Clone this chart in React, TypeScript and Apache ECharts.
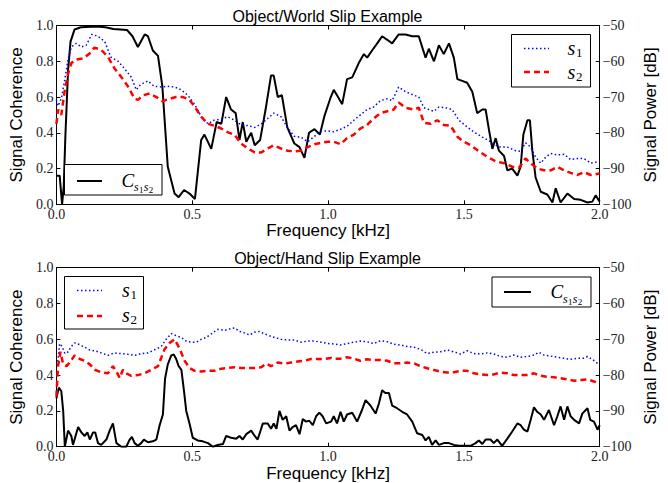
import React, { useEffect, useRef } from "react";
import * as echarts from "echarts";

// ---------- data (frequency in kHz, coherence 0..1, power in dB) ----------
const worldCoherence: [number, number][] = [
  [0, 0.16], [0.012, 0.16], [0.021, 0.0], [0.027, 0.1], [0.033, 0.38], [0.043, 0.75], [0.052, 0.91],
  [0.067, 0.978], [0.09, 0.99], [0.15, 0.995], [0.18, 0.99], [0.21, 0.98], [0.26, 0.975], [0.28, 0.94],
  [0.3, 0.88], [0.325, 0.95], [0.337, 0.94], [0.355, 0.86], [0.374, 0.83], [0.39, 0.66], [0.41, 0.21],
  [0.435, 0.06], [0.45, 0.04], [0.47, 0.08], [0.49, 0.06], [0.51, 0.03], [0.533, 0.36], [0.545, 0.39],
  [0.57, 0.31], [0.59, 0.46], [0.607, 0.45], [0.625, 0.6], [0.643, 0.53], [0.66, 0.51], [0.674, 0.36],
  [0.686, 0.46], [0.699, 0.35], [0.717, 0.4], [0.73, 0.33], [0.75, 0.36], [0.77, 0.53], [0.79, 0.72],
  [0.8, 0.72], [0.815, 0.6], [0.83, 0.61], [0.85, 0.43], [0.876, 0.34], [0.895, 0.32], [0.913, 0.26],
  [0.93, 0.4], [0.95, 0.42], [0.97, 0.39], [0.986, 0.49], [1.01, 0.6], [1.021, 0.64], [1.033, 0.61],
  [1.052, 0.56], [1.07, 0.7], [1.089, 0.71], [1.113, 0.79], [1.132, 0.84], [1.144, 0.82], [1.162, 0.86],
  [1.181, 0.9], [1.199, 0.94], [1.218, 0.92], [1.236, 0.9], [1.26, 0.95], [1.285, 0.95], [1.31, 0.94],
  [1.334, 0.94], [1.359, 0.82], [1.371, 0.87], [1.39, 0.8], [1.408, 0.89], [1.426, 0.84], [1.445, 0.9],
  [1.463, 0.82], [1.476, 0.7], [1.494, 0.69], [1.512, 0.68], [1.531, 0.63], [1.549, 0.51], [1.568, 0.53],
  [1.58, 0.53], [1.592, 0.42], [1.605, 0.31], [1.617, 0.37], [1.629, 0.3], [1.648, 0.27], [1.66, 0.19],
  [1.678, 0.2], [1.697, 0.16], [1.709, 0.21], [1.719, 0.39], [1.734, 0.47], [1.743, 0.47], [1.752, 0.3],
  [1.764, 0.15], [1.783, 0.07], [1.807, 0.055], [1.826, 0.01], [1.838, 0.09], [1.856, 0.01], [1.881, 0.06],
  [1.906, 0.03], [1.93, 0.025], [1.955, 0.01], [1.973, 0.015], [1.985, 0.05], [2.0, 0.015],
];

const worldS1: [number, number][] = [
  [0, -70.8], [0.006, -72.5], [0.018, -70.5], [0.03, -65.5], [0.043, -59.5], [0.055, -56], [0.073, -55],
  [0.092, -56], [0.11, -55.5], [0.13, -52.5], [0.153, -53], [0.178, -54.5], [0.2, -58.8], [0.227, -60],
  [0.25, -62], [0.276, -64.5], [0.294, -68], [0.31, -66.5], [0.337, -65.5], [0.36, -67], [0.386, -67.2],
  [0.41, -67], [0.435, -67.2], [0.46, -68], [0.484, -69.5], [0.51, -72.2], [0.533, -75.5], [0.558, -77.5],
  [0.58, -76.5], [0.607, -76.2], [0.63, -75.5], [0.656, -76.5], [0.68, -77.8], [0.705, -78], [0.73, -78.5],
  [0.754, -77.5], [0.778, -76], [0.8, -74.5], [0.827, -75.5], [0.85, -78.5], [0.876, -81], [0.9, -81.2],
  [0.925, -82.5], [0.95, -81], [0.974, -79.5], [1.0, -79.5], [1.021, -79.7], [1.046, -79], [1.07, -78.2],
  [1.095, -76.5], [1.119, -75], [1.144, -73.5], [1.168, -72.8], [1.193, -71], [1.218, -70.5], [1.236, -71],
  [1.26, -67.2], [1.285, -68.5], [1.316, -69.5], [1.334, -70], [1.353, -73], [1.371, -73.5], [1.39, -74],
  [1.408, -72.8], [1.433, -73], [1.457, -73.5], [1.482, -76.5], [1.506, -78], [1.537, -79.8], [1.568, -81.2],
  [1.598, -82.5], [1.629, -84], [1.66, -84], [1.69, -85], [1.709, -85.2], [1.727, -82.8], [1.746, -84],
  [1.764, -86.8], [1.783, -88.5], [1.801, -86.8], [1.82, -85.8], [1.844, -86.2], [1.869, -86], [1.893, -87.5],
  [1.918, -87.2], [1.942, -87.2], [1.967, -88.5], [2.0, -88],
];

const worldS2: [number, number][] = [
  [0, -77.5], [0.006, -73.5], [0.018, -75], [0.03, -68.5], [0.043, -63.5], [0.055, -60.5], [0.073, -59.5],
  [0.098, -59.2], [0.12, -58], [0.14, -56.2], [0.165, -56.8], [0.19, -58.8], [0.214, -62], [0.24, -64.5],
  [0.263, -67], [0.288, -70.5], [0.3, -70.8], [0.32, -69.5], [0.343, -69], [0.368, -70], [0.39, -71.2],
  [0.416, -70.5], [0.44, -70], [0.466, -70], [0.49, -70.8], [0.51, -72.8], [0.533, -75.5], [0.558, -77.5],
  [0.58, -78], [0.607, -78.8], [0.63, -79.8], [0.656, -80.6], [0.68, -83], [0.705, -84.4], [0.73, -85.5],
  [0.754, -85.5], [0.778, -84.4], [0.8, -83.5], [0.827, -84.4], [0.85, -85], [0.876, -85.2], [0.9, -85],
  [0.925, -84], [0.95, -83.2], [0.974, -82.8], [1.0, -82.5], [1.021, -82.5], [1.046, -83.2], [1.07, -81.5],
  [1.095, -80.5], [1.119, -78.8], [1.144, -77.8], [1.168, -76], [1.193, -74.5], [1.218, -74], [1.242, -73.5],
  [1.26, -71.5], [1.285, -73], [1.316, -73.5], [1.334, -73], [1.353, -77.2], [1.377, -77.5], [1.402, -76.5],
  [1.426, -77.8], [1.451, -78], [1.476, -81.1], [1.5, -82.5], [1.525, -83.5], [1.555, -85.2], [1.586, -86.7],
  [1.617, -88], [1.648, -88.5], [1.678, -89.5], [1.703, -89.8], [1.727, -87.2], [1.746, -88.5], [1.77, -90],
  [1.795, -90.5], [1.82, -90.5], [1.844, -89.5], [1.869, -90.5], [1.893, -91.2], [1.918, -91.8], [1.942, -91],
  [1.967, -91.8], [2.0, -91.4],
];

const handCoherence: [number, number][] = [
  [0, 0.27], [0.009, 0.33], [0.018, 0.31], [0.025, 0.2], [0.031, 0.0], [0.043, 0.09], [0.055, 0.06],
  [0.061, 0.01], [0.08, 0.11], [0.092, 0.08], [0.104, 0.06], [0.114, 0.08], [0.123, 0.04], [0.135, 0.08],
  [0.143, 0.08], [0.153, 0.02], [0.165, 0.01], [0.184, 0.04], [0.196, 0.09], [0.208, 0.13], [0.221, 0.02],
  [0.239, 0.0], [0.257, 0.0], [0.27, 0.04], [0.278, 0.055], [0.288, 0.02], [0.3, 0.005], [0.312, 0.02],
  [0.322, 0.04], [0.337, 0.025], [0.355, 0.03], [0.368, 0.04], [0.38, 0.12], [0.392, 0.18], [0.4, 0.38],
  [0.41, 0.46], [0.423, 0.51], [0.432, 0.515], [0.441, 0.49], [0.45, 0.45], [0.46, 0.43], [0.469, 0.32],
  [0.478, 0.2], [0.49, 0.13], [0.502, 0.05], [0.52, 0.035], [0.539, 0.03], [0.558, 0.02], [0.576, 0.0],
  [0.594, 0.01], [0.613, 0.015], [0.625, 0.06], [0.643, 0.05], [0.662, 0.045], [0.674, 0.06], [0.686, 0.04],
  [0.699, 0.07], [0.717, 0.09], [0.73, 0.06], [0.741, 0.04], [0.76, 0.13], [0.778, 0.13], [0.79, 0.1],
  [0.8, 0.13], [0.81, 0.1], [0.821, 0.2], [0.833, 0.15], [0.846, 0.17], [0.858, 0.09], [0.87, 0.11],
  [0.882, 0.12], [0.895, 0.07], [0.907, 0.155], [0.919, 0.14], [0.931, 0.145], [0.944, 0.12], [0.956, 0.17],
  [0.968, 0.19], [0.98, 0.17], [0.993, 0.13], [1.011, 0.14], [1.021, 0.17], [1.033, 0.13], [1.046, 0.195],
  [1.058, 0.14], [1.07, 0.18], [1.089, 0.19], [1.107, 0.14], [1.125, 0.205], [1.138, 0.26], [1.156, 0.23],
  [1.175, 0.185], [1.187, 0.24], [1.199, 0.315], [1.211, 0.3], [1.224, 0.3], [1.236, 0.23], [1.254, 0.215],
  [1.273, 0.195], [1.291, 0.18], [1.31, 0.14], [1.328, 0.075], [1.347, 0.065], [1.359, 0.035], [1.371, 0.055],
  [1.383, 0.01], [1.396, 0.035], [1.408, 0.01], [1.426, 0.02], [1.445, 0.02], [1.463, 0.01], [1.482, 0.005],
  [1.506, 0.005], [1.525, 0.005], [1.543, 0.02], [1.555, 0.035], [1.568, 0.015], [1.58, 0.04], [1.598, 0.04],
  [1.61, 0.02], [1.623, 0.04], [1.641, 0.005], [1.66, 0.045], [1.678, 0.085], [1.697, 0.13], [1.709, 0.12],
  [1.721, 0.095], [1.734, 0.085], [1.746, 0.15], [1.758, 0.22], [1.77, 0.195], [1.783, 0.18], [1.795, 0.15],
  [1.813, 0.205], [1.832, 0.12], [1.844, 0.17], [1.856, 0.225], [1.869, 0.15], [1.881, 0.225], [1.893, 0.17],
  [1.906, 0.15], [1.924, 0.13], [1.936, 0.185], [1.955, 0.215], [1.965, 0.15], [1.979, 0.14], [1.992, 0.095],
  [2.0, 0.12],
];

const handS1: [number, number][] = [
  [0, -77.2], [0.004, -77], [0.012, -71.2], [0.021, -72], [0.031, -74], [0.043, -73.5], [0.055, -72],
  [0.067, -71], [0.086, -71.5], [0.104, -72.2], [0.123, -73], [0.141, -73.2], [0.165, -73.8], [0.19, -74.5],
  [0.214, -73.8], [0.239, -74], [0.263, -74.2], [0.288, -74.5], [0.312, -74], [0.337, -73.8], [0.36, -73],
  [0.386, -72], [0.404, -70], [0.423, -68.4], [0.441, -69], [0.46, -69.5], [0.478, -70.5], [0.496, -70.8],
  [0.515, -70.8], [0.533, -70], [0.551, -69.5], [0.57, -68.5], [0.594, -67.2], [0.619, -67.5], [0.643, -67],
  [0.656, -66.8], [0.674, -67.8], [0.692, -68.2], [0.711, -68.8], [0.729, -68], [0.748, -67.8], [0.766, -68.5],
  [0.784, -69], [0.803, -69.5], [0.827, -70], [0.852, -70.2], [0.876, -70.2], [0.9, -70.8], [0.925, -70.5],
  [0.95, -70.5], [0.974, -70.8], [1.0, -71.2], [1.021, -71.3], [1.046, -71.6], [1.07, -71.2], [1.095, -70.8],
  [1.119, -70.5], [1.144, -70.7], [1.168, -71.2], [1.193, -70.4], [1.218, -70.7], [1.242, -71.4], [1.267, -71.6],
  [1.291, -72], [1.316, -72.2], [1.34, -72.8], [1.365, -74], [1.39, -73.6], [1.414, -73.5], [1.439, -73],
  [1.463, -73.5], [1.488, -74.1], [1.512, -73.2], [1.537, -74], [1.562, -74.1], [1.586, -73.8], [1.61, -74.1],
  [1.635, -74.8], [1.66, -75], [1.684, -74.4], [1.709, -75], [1.734, -74.8], [1.758, -74.4], [1.776, -73.6],
  [1.795, -74.4], [1.82, -74.7], [1.844, -75], [1.869, -75.3], [1.893, -75.6], [1.918, -75.3], [1.942, -75.3],
  [1.955, -74.8], [1.973, -75.6], [2.0, -77.2],
];

const handS2: [number, number][] = [
  [0, -86], [0.006, -77.5], [0.015, -73.5], [0.025, -77], [0.037, -77.5], [0.049, -76.5], [0.067, -74.5],
  [0.086, -75.5], [0.104, -76], [0.123, -77], [0.141, -78.5], [0.165, -79.2], [0.19, -79.5], [0.208, -77.5],
  [0.221, -79], [0.233, -80.8], [0.245, -78.5], [0.257, -79.5], [0.276, -80.2], [0.3, -80], [0.325, -79.5],
  [0.35, -78.5], [0.374, -77.5], [0.398, -72.8], [0.417, -71], [0.435, -70], [0.453, -72.5], [0.472, -76],
  [0.49, -78], [0.509, -78.8], [0.533, -79], [0.558, -78.8], [0.582, -78.8], [0.607, -78.2], [0.631, -78],
  [0.656, -77.8], [0.68, -78], [0.705, -78], [0.729, -78], [0.754, -77.8], [0.772, -76.8], [0.79, -77.5],
  [0.815, -76.5], [0.84, -76.8], [0.864, -76.5], [0.888, -76.2], [0.913, -76], [0.937, -75.5], [0.962, -75.5],
  [0.986, -75.5], [1.011, -75.2], [1.021, -75.4], [1.046, -75.4], [1.07, -75], [1.095, -75.4], [1.119, -76],
  [1.144, -75.6], [1.168, -75.8], [1.193, -75.8], [1.218, -76], [1.242, -76.7], [1.267, -76.7], [1.291, -76.5],
  [1.316, -76.7], [1.34, -77.5], [1.365, -78.1], [1.39, -78.6], [1.414, -79], [1.439, -79.3], [1.463, -79.2],
  [1.488, -78.8], [1.512, -78.8], [1.537, -79.5], [1.562, -79.8], [1.586, -80], [1.61, -79.8], [1.635, -79.3],
  [1.66, -79.5], [1.684, -80], [1.709, -80], [1.734, -80], [1.758, -79.5], [1.783, -80.2], [1.807, -80.5],
  [1.832, -80.6], [1.856, -80.9], [1.881, -81.2], [1.906, -81.6], [1.93, -81.4], [1.955, -81.2], [1.979, -81.8],
  [2.0, -82.3],
];

const panelTitles = ["Object/World Slip Example", "Object/Hand Slip Example"];
const freqRange = [0, 2.0];
const coherenceRange = [0, 1.0];
const powerRange = [-100, -50];

// ---------- styling ----------
const BLACK = "#000000";
const BLUE = "#0000ff";
const RED = "#ff0000";
const tickFont = { fontFamily: "Liberation Serif", fontSize: 14, color: "#222" };
const nameFont = { fontFamily: "Liberation Sans", fontSize: 17, color: "#000" };
const frame = { color: "#000", width: 1 };
const grids = [
  { left: 55, top: 25.5, width: 544.7, height: 178.8 },
  { left: 55, top: 267.7, width: 544.7, height: 179 },
];

const mathFont = (size: number, italic: boolean) =>
  `${italic ? "italic " : ""}${size}px "Liberation Serif"`;

function txt(text: string, x: number, y: number, size: number, italic: boolean) {
  return {
    type: "text",
    x,
    y,
    z: 110,
    style: {
      text,
      font: mathFont(size, italic),
      fill: "#000",
      textAlign: "left",
      textVerticalAlign: "middle",
    },
  };
}

function legendBox(x: number, y: number, w: number, h: number) {
  return {
    type: "rect",
    z: 100,
    shape: { x, y, width: w, height: h },
    style: { fill: "#fff", stroke: "#000", lineWidth: 1 },
  };
}

function legendLine(x1: number, x2: number, y: number, kind: "c" | "s1" | "s2") {
  const st =
    kind === "c"
      ? { stroke: BLACK, lineWidth: 2 }
      : kind === "s1"
      ? { stroke: BLUE, lineWidth: 1.5, lineDash: [1.5, 2.5] }
      : { stroke: RED, lineWidth: 2.5, lineDash: [6, 4] };
  return { type: "line", z: 105, shape: { x1, y1: y, x2, y2: y }, style: st };
}

// C with subscript s_1 s_2
function cLabel(x: number, y: number) {
  return [
    txt("C", x, y, 19, true),
    txt("s", x + 12.6, y + 7, 12, true),
    txt("1", x + 17.5, y + 10, 9, false),
    txt("s", x + 22.3, y + 7, 12, true),
    txt("2", x + 27.2, y + 10, 9, false),
  ];
}

// s with subscript digit
function sLabel(x: number, y: number, digit: string) {
  return [txt("s", x, y, 20, true), txt(digit, x + 8.5, y + 4.5, 13, false)];
}

export default function App() {
  const ref = useRef<HTMLDivElement>(null);

  useEffect(() => {
    if (!ref.current) return;
    const chart = echarts.init(ref.current, undefined, { renderer: "svg" });

    const xAxis: any[] = [];
    const yAxis: any[] = [];
    const series: any[] = [];
    const panels = [
      { c: worldCoherence, s1: worldS1, s2: worldS2 },
      { c: handCoherence, s1: handS1, s2: handS2 },
    ];

    panels.forEach((p, i) => {
      xAxis.push({
        type: "value",
        gridIndex: i,
        min: freqRange[0],
        max: freqRange[1],
        interval: 0.5,
        position: "bottom",
        axisLine: { show: true, onZero: false, lineStyle: frame },
        axisTick: { show: true, inside: true, length: 4, lineStyle: frame },
        axisLabel: { formatter: (v: number) => v.toFixed(1), margin: 3, ...tickFont },
        splitLine: { show: false },
        name: "Frequency [kHz]",
        nameLocation: "middle",
        nameGap: 15,
        nameTextStyle: nameFont,
      });
      xAxis.push({
        type: "value",
        gridIndex: i,
        min: freqRange[0],
        max: freqRange[1],
        interval: 0.5,
        position: "top",
        axisLine: { show: true, onZero: false, lineStyle: frame },
        axisTick: { show: true, inside: true, length: 4, lineStyle: frame },
        axisLabel: { show: false },
        splitLine: { show: false },
      });
      yAxis.push({
        type: "value",
        gridIndex: i,
        min: coherenceRange[0],
        max: coherenceRange[1],
        interval: 0.2,
        position: "left",
        axisLine: { show: true, onZero: false, lineStyle: frame },
        axisTick: { show: true, inside: true, length: 4, lineStyle: frame },
        axisLabel: { formatter: (v: number) => v.toFixed(1), margin: 3, ...tickFont },
        splitLine: { show: false },
        name: "Signal Coherence",
        nameLocation: "middle",
        nameGap: 20,
        nameRotate: 90,
        nameTextStyle: nameFont,
      });
      yAxis.push({
        type: "value",
        gridIndex: i,
        min: powerRange[0],
        max: powerRange[1],
        interval: 10,
        position: "right",
        axisLine: { show: true, onZero: false, lineStyle: frame },
        axisTick: { show: true, inside: true, length: 4, lineStyle: frame },
        axisLabel: {
          formatter: (v: number) => (v < 0 ? "\u2212" : "") + Math.abs(v),
          margin: 3,
          ...tickFont,
        },
        splitLine: { show: false },
        name: "Signal Power [dB]",
        nameLocation: "middle",
        nameGap: 33,
        nameRotate: 90,
        nameTextStyle: nameFont,
      });

      series.push({
        name: "C",
        type: "line",
        xAxisIndex: 2 * i,
        yAxisIndex: 2 * i,
        data: p.c,
        symbol: "none",
        showSymbol: false,
        lineStyle: { color: BLACK, width: 2 },
        z: 2,
      });
      series.push({
        name: "s1",
        type: "line",
        xAxisIndex: 2 * i,
        yAxisIndex: 2 * i + 1,
        data: p.s1,
        symbol: "none",
        showSymbol: false,
        lineStyle: { color: BLUE, width: 1.5, type: [1.5, 2.5] },
        z: 3,
      });
      series.push({
        name: "s2",
        type: "line",
        xAxisIndex: 2 * i,
        yAxisIndex: 2 * i + 1,
        data: p.s2,
        symbol: "none",
        showSymbol: false,
        lineStyle: { color: RED, width: 2.5, type: [6, 4] },
        z: 4,
      });
    });

    const graphic: any[] = [
      // top panel: coherence legend (lower left)
      legendBox(64.5, 164.5, 97.5, 30.5),
      legendLine(77, 102, 181, "c"),
      ...cLabel(121.5, 180),
      // top panel: power legend (upper right)
      legendBox(511.5, 34.5, 79, 52.5),
      legendLine(524, 549, 48.5, "s1"),
      ...sLabel(567.5, 47.5, "1"),
      legendLine(524, 549, 72, "s2"),
      ...sLabel(567.5, 71.5, "2"),
      // bottom panel: power legend (upper left)
      legendBox(64.5, 276.5, 79, 52.5),
      legendLine(77, 102, 290.5, "s1"),
      ...sLabel(122, 289.5, "1"),
      legendLine(77, 102, 316, "s2"),
      ...sLabel(122, 315, "2"),
      // bottom panel: coherence legend (upper right)
      legendBox(492, 277, 99, 30),
      legendLine(504, 531, 292, "c"),
      ...cLabel(550.5, 291.5),
    ];

    chart.setOption({
      animation: false,
      backgroundColor: "#fff",
      title: panelTitles.map((t, i) => ({
        text: t,
        left: 327.5,
        top: i === 0 ? 8 : 250,
        textAlign: "center",
        padding: 0,
        textStyle: { fontFamily: "Liberation Sans", fontSize: 16, fontWeight: "normal", color: "#000" },
      })),
      grid: grids,
      xAxis,
      yAxis,
      series,
      graphic,
    });

    return () => chart.dispose();
  }, []);

  return (
    <div
      ref={ref}
      style={{ position: "fixed", left: 0, top: 0, width: 668, height: 483, background: "#fff" }}
    />
  );
}
